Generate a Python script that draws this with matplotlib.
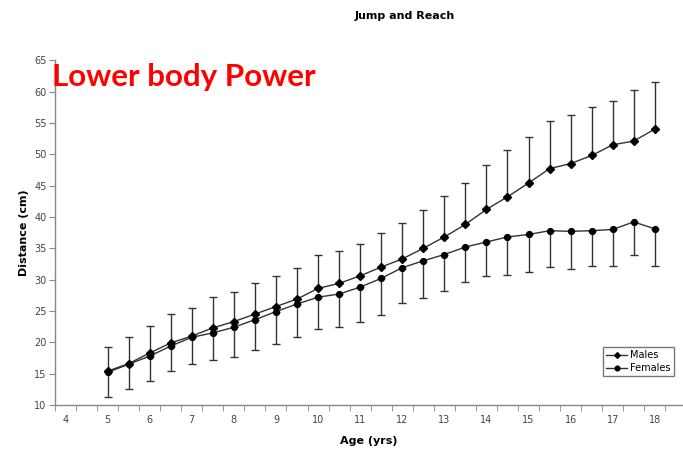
import matplotlib.pyplot as plt
import matplotlib.ticker as mticker

ages = [5, 5.5, 6, 6.5, 7, 7.5, 8, 8.5, 9, 9.5, 10, 10.5, 11, 11.5, 12, 12.5,
        13, 13.5, 14, 14.5, 15, 15.5, 16, 16.5, 17, 17.5, 18]

males = [15.4, 16.6, 18.3, 19.9, 21.0, 22.3, 23.3, 24.5, 25.7, 26.9, 28.6, 29.4,
         30.6, 32.0, 33.3, 35.0, 36.8, 38.8, 41.2, 43.2, 45.4, 47.7, 48.5, 49.8,
         51.5, 52.1, 54.0]
males_top = [19.3, 20.8, 22.6, 24.5, 25.4, 27.2, 28.0, 29.4, 30.5, 31.9, 33.9, 34.6,
             35.6, 37.5, 39.1, 41.1, 43.4, 45.4, 48.3, 50.7, 52.8, 55.3, 56.2, 57.6,
             58.5, 60.3, 61.5]

females = [15.2, 16.5, 17.8, 19.4, 20.8, 21.5, 22.4, 23.6, 24.9, 26.1, 27.2, 27.7,
           28.8, 30.2, 31.9, 33.0, 34.0, 35.2, 36.0, 36.8, 37.2, 37.8, 37.7, 37.8,
           38.0, 39.2, 38.1]
females_bottom = [11.3, 12.5, 13.9, 15.4, 16.5, 17.1, 17.7, 18.7, 19.7, 20.9, 22.1, 22.4,
                  23.3, 24.3, 26.2, 27.1, 28.2, 29.6, 30.5, 30.7, 31.2, 32.0, 31.7, 32.2,
                  32.1, 33.9, 32.2]

x_ticks = list(range(4, 19))

fig = plt.figure(figsize=(6.83, 4.49), dpi=100)
ax = fig.add_axes([0.0805, 0.098, 0.9195, 0.768])

up_err = [t - m for t, m in zip(males_top, males)]
down_err = [f - b for f, b in zip(females, females_bottom)]

ax.errorbar(ages, males, yerr=[[0] * len(ages), up_err], fmt='none', ecolor='#333333',
            elinewidth=1, capsize=3, capthick=1)
ax.errorbar(ages, females, yerr=[down_err, [0] * len(ages)], fmt='none', ecolor='#333333',
            elinewidth=1, capsize=3, capthick=1)
ax.plot(ages, males, color='#333333', lw=1, marker='D', markersize=3.6,
        markerfacecolor='black', markeredgecolor='black', label='Males')
ax.plot(ages, females, color='#333333', lw=1, marker='o', markersize=4.2,
        markerfacecolor='black', markeredgecolor='black', label='Females')

ax.set_xlim(3.75, 18.67)
ax.set_ylim(10, 65)
ax.set_xticks(x_ticks)
ax.set_xticklabels([str(t) for t in x_ticks])
ax.xaxis.set_minor_locator(mticker.FixedLocator([t + 0.25 for t in range(4, 19)] +
                                                [t - 0.25 for t in range(4, 19)]))
ax.tick_params(axis='x', which='major', length=0, pad=7, labelsize=7, colors='#444444')
ax.tick_params(axis='x', which='minor', length=4, direction='out', color='#888888')
ax.set_yticks(range(10, 70, 5))
ax.tick_params(axis='y', length=4, direction='out', color='#888888', labelsize=7,
               labelcolor='#444444', pad=2)
for s in ['top', 'right']:
    ax.spines[s].set_visible(False)
for s in ['left', 'bottom']:
    ax.spines[s].set_color('#888888')
    ax.spines[s].set_linewidth(1)

ax.set_xlabel('Age (yrs)', fontsize=8, fontweight='bold', labelpad=8)
ax.set_ylabel('Distance (cm)', fontsize=8, fontweight='bold', labelpad=4)
fig.text(0.593, 0.965, 'Jump and Reach', ha='center', va='center', fontsize=8,
         fontweight='bold')
fig.text(0.076, 0.829, 'Lower body Power', color='red', fontsize=22.6, fontweight='bold',
         family='Lato', ha='left', va='center')

leg = ax.legend(loc='lower right', bbox_to_anchor=(0.993, 0.07), fontsize=7,
                frameon=True, fancybox=False, handlelength=2.2, handletextpad=0.3,
                borderpad=0.3, labelspacing=0.3, markerscale=0.8)
leg.get_frame().set_edgecolor('#555555')
leg.get_frame().set_linewidth(1)

plt.savefig('out.png', dpi=100)
